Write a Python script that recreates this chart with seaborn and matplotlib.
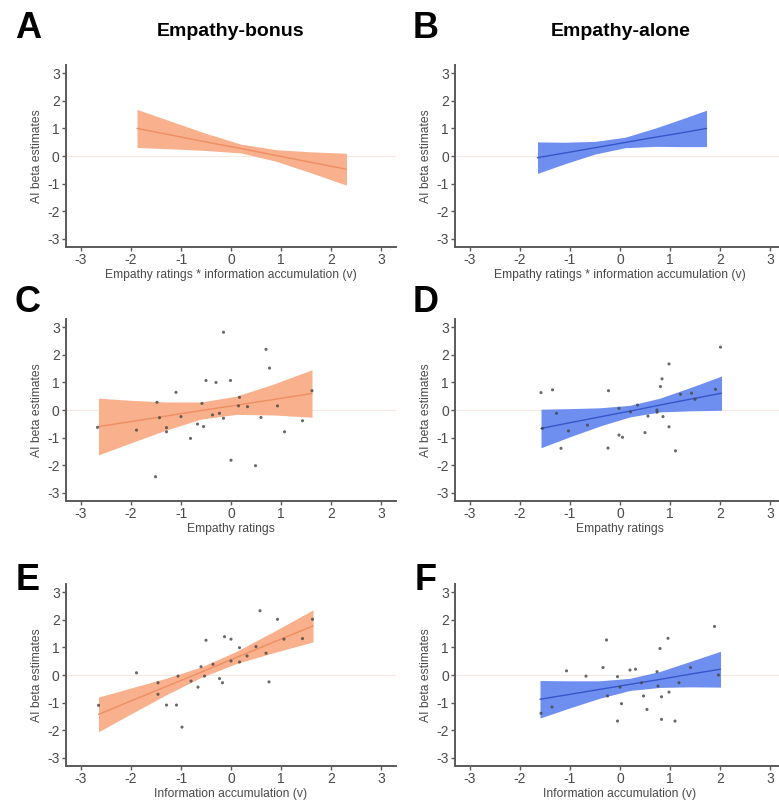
import matplotlib
matplotlib.use("Agg")
import matplotlib.pyplot as plt
import seaborn as sns
import numpy as np

sns.set_theme(style="ticks")
plt.rcParams["font.family"] = ["Liberation Sans", "DejaVu Sans"]

# ---------------- data ----------------
# Panel A : Empathy-bonus, interaction
a_x   = [-1.88, -1.2, -0.5, 0.2, 0.9, 1.6, 2.31]
a_fit = [1.00, 0.76, 0.51, 0.27, 0.02, -0.23, -0.48]
a_lo  = [0.31, 0.26, 0.20, 0.11, -0.19, -0.61, -1.06]
a_hi  = [1.69, 1.26, 0.82, 0.43, 0.23, 0.15, 0.10]

# Panel B : Empathy-alone, interaction
b_x   = [-1.65, -1.1, -0.5, 0.1, 0.7, 1.2, 1.73]
b_fit = [-0.06, 0.11, 0.30, 0.49, 0.68, 0.83, 1.00]
b_lo  = [-0.63, -0.28, 0.07, 0.30, 0.35, 0.34, 0.34]
b_hi  = [0.51, 0.50, 0.53, 0.68, 1.01, 1.32, 1.66]

# Panel C : Empathy-bonus, empathy ratings
c_x   = [-2.65, -2.0, -1.3, -0.6, 0.1, 0.85, 1.62]
c_fit = [-0.60, -0.42, -0.22, -0.02, 0.17, 0.38, 0.60]
c_lo  = [-1.63, -1.19, -0.73, -0.33, -0.16, -0.18, -0.26]
c_hi  = [0.43, 0.35, 0.29, 0.29, 0.50, 0.94, 1.46]
c_px  = [-0.15, 0.70, 0.77, -0.50, -0.30, -0.01, -1.10, -1.48, -0.58, 0.17, 0.15,
         0.33, 0.93, 1.62, -1.43, -1.00, -0.67, -0.55, -0.37, -0.23, -0.15, 0.60,
         1.43, -2.67, -1.89, -1.29, -1.29, -0.81, 1.07, 0.00, 0.49, -1.51]
c_py  = [2.82, 2.20, 1.52, 1.07, 1.00, 1.07, 0.64, 0.28, 0.24, 0.46, 0.15,
         0.12, 0.15, 0.70, -0.28, -0.24, -0.51, -0.60, -0.18, -0.12, -0.30, -0.27,
         -0.39, -0.63, -0.73, -0.64, -0.79, -1.03, -0.79, -1.82, -2.02, -2.42]

# Panel D : Empathy-alone, empathy ratings
d_x   = [-1.58, -1.0, -0.4, 0.2, 0.8, 1.4, 2.03]
d_fit = [-0.67, -0.46, -0.25, -0.04, 0.18, 0.39, 0.61]
d_lo  = [-1.37, -0.97, -0.58, -0.25, -0.07, -0.03, -0.01]
d_hi  = [0.03, 0.05, 0.08, 0.17, 0.43, 0.81, 1.23]
d_px  = [2.01, 0.98, 0.84, 0.81, -1.58, -1.35, -0.23, 1.21, 1.43, 1.91, 1.50,
         -1.27, -0.02, 0.21, 0.74, 0.74, 0.56, 0.86, -1.03, -0.65, -0.02, 0.05,
         0.50, 0.98, -1.18, -0.24, 1.11, 0.35, -1.55]
d_py  = [2.28, 1.67, 1.13, 0.85, 0.63, 0.73, 0.70, 0.57, 0.61, 0.75, 0.39,
         -0.12, 0.06, -0.07, 0.00, -0.08, -0.22, -0.24, -0.76, -0.55, -0.91, -0.99,
         -0.82, -0.61, -1.39, -1.38, -1.48, 0.18, -0.67]

# Panel E : Empathy-bonus, information accumulation
e_x   = [-2.65, -2.0, -1.3, -0.6, 0.1, 0.85, 1.64]
e_fit = [-1.43, -0.94, -0.42, 0.10, 0.63, 1.19, 1.78]
e_lo  = [-2.06, -1.41, -0.72, -0.09, 0.41, 0.81, 1.20]
e_hi  = [-0.80, -0.47, -0.12, 0.29, 0.85, 1.57, 2.36]
e_px  = [0.58, 0.93, 1.63, -0.13, 0.00, -0.50, 1.06, 1.43, 0.17, 0.50, 0.70,
         0.32, 0.00, 0.17, -0.36, -0.60, -1.89, -0.53, -0.23, -0.17, -0.80, 0.76,
         -1.46, -0.66, -1.46, -1.29, -1.09, -2.65, -0.98, -1.06]
e_py  = [2.33, 2.02, 2.02, 1.39, 1.30, 1.26, 1.30, 1.32, 0.99, 1.03, 0.79,
         0.69, 0.51, 0.47, 0.39, 0.30, 0.08, -0.04, -0.13, -0.28, -0.22, -0.25,
         -0.28, -0.44, -0.70, -1.09, -1.09, -1.10, -1.89, -0.04]

# Panel F : Empathy-alone, information accumulation
f_x   = [-1.60, -1.0, -0.4, 0.2, 0.8, 1.4, 2.01]
f_fit = [-0.88, -0.70, -0.52, -0.34, -0.16, 0.03, 0.21]
f_lo  = [-1.56, -1.19, -0.84, -0.56, -0.45, -0.43, -0.44]
f_hi  = [-0.20, -0.21, -0.21, -0.12, 0.13, 0.49, 0.86]
f_px  = [1.89, -0.27, 0.96, 0.80, -0.34, 0.20, 0.31, -1.07, 0.74, 1.41, -0.68,
         -0.05, 1.97, 0.43, 1.18, 0.00, 0.76, 0.98, 0.47, -0.25, 0.83, -1.36,
         0.03, 0.54, -1.58, -0.05, 0.83, 1.10]
f_py  = [1.76, 1.27, 1.33, 0.96, 0.27, 0.18, 0.21, 0.15, 0.12, 0.27, -0.04,
         -0.06, 0.00, -0.28, -0.28, -0.44, -0.40, -0.62, -0.76, -0.76, -0.79, -1.16,
         -1.04, -1.25, -1.39, -1.67, -1.61, -1.67]

ticks = [-3, -2, -1, 0, 1, 2, 3]
titles = ["Empathy-bonus", "Empathy-alone"]
letters = ["A", "B", "C", "D", "E", "F"]
xlabels = ["Empathy ratings * information accumulation (v)",
           "Empathy ratings",
           "Information accumulation (v)"]
ylabel = "AI beta estimates"

ORANGE_BAND = "#F9B08C"
ORANGE_LINE = "#EE8E63"
BLUE_BAND = "#6F8FF0"
BLUE_LINE = "#3656C8"

panels = [
    (a_x, a_fit, a_lo, a_hi, None, None),
    (b_x, b_fit, b_lo, b_hi, None, None),
    (c_x, c_fit, c_lo, c_hi, c_px, c_py),
    (d_x, d_fit, d_lo, d_hi, d_px, d_py),
    (e_x, e_fit, e_lo, e_hi, e_px, e_py),
    (f_x, f_fit, f_lo, f_hi, f_px, f_py),
]

# ---------------- figure ----------------
W, H = 779, 805
fig = plt.figure(figsize=(W / 100, H / 100), dpi=100)

col_left = [66, 455]
row_bottom = [247, 501, 766]
ax_w, ax_h = 330, 182

for i, (bx, bfit, blo, bhi, px, py) in enumerate(panels):
    r, c = divmod(i, 2)
    left = col_left[c] / W
    bottom = (H - row_bottom[r]) / H
    ax = fig.add_axes([left, bottom, ax_w / W, ax_h / H])
    band = ORANGE_BAND if c == 0 else BLUE_BAND
    line = ORANGE_LINE if c == 0 else BLUE_LINE

    ax.axhline(0, color="#F6E9E4", lw=0.8, zorder=0)
    ax.fill_between(bx, blo, bhi, color=band, lw=0, zorder=1)
    sns.lineplot(x=bx, y=bfit, ax=ax, color=line, lw=1.0, zorder=2)
    if px is not None:
        sns.scatterplot(x=px, y=py, ax=ax, color="#444444", s=5,
                        edgecolor="none", alpha=0.8, zorder=3)

    ax.set_xlim(-3.3, 3.3)
    ax.set_ylim(-3.3, 3.3)
    ax.set_xticks(ticks)
    ax.set_yticks(ticks)
    ax.set_xticklabels([str(t) for t in ticks])
    ax.set_yticklabels([str(t) for t in ticks])
    sns.despine(ax=ax)
    for s in ["left", "bottom"]:
        ax.spines[s].set_color("#5a5a5a")
        ax.spines[s].set_linewidth(1.4)
    ax.tick_params(axis="both", direction="out", length=3, width=1,
                   color="#5a5a5a", labelsize=10, labelcolor="#4a4a4a", pad=1.5)
    ax.set_xlabel(xlabels[r], fontsize=8.7, color="#4a4a4a", labelpad=1)
    ax.set_ylabel(ylabel, fontsize=8.7, color="#4a4a4a", labelpad=3)

    # panel letter
    lx = [28, 426][c]
    ly = [28, 302, 580][r]
    fig.text(lx / W, 1 - ly / H, letters[i], fontsize=26, fontweight="bold",
             ha="center", va="center", color="black")

for c in range(2):
    fig.text([231, 621][c] / W, 1 - 32 / H, titles[c], fontsize=14,
             fontweight="bold", ha="center", va="center", color="black")

fig.savefig("out.png", dpi=100)
